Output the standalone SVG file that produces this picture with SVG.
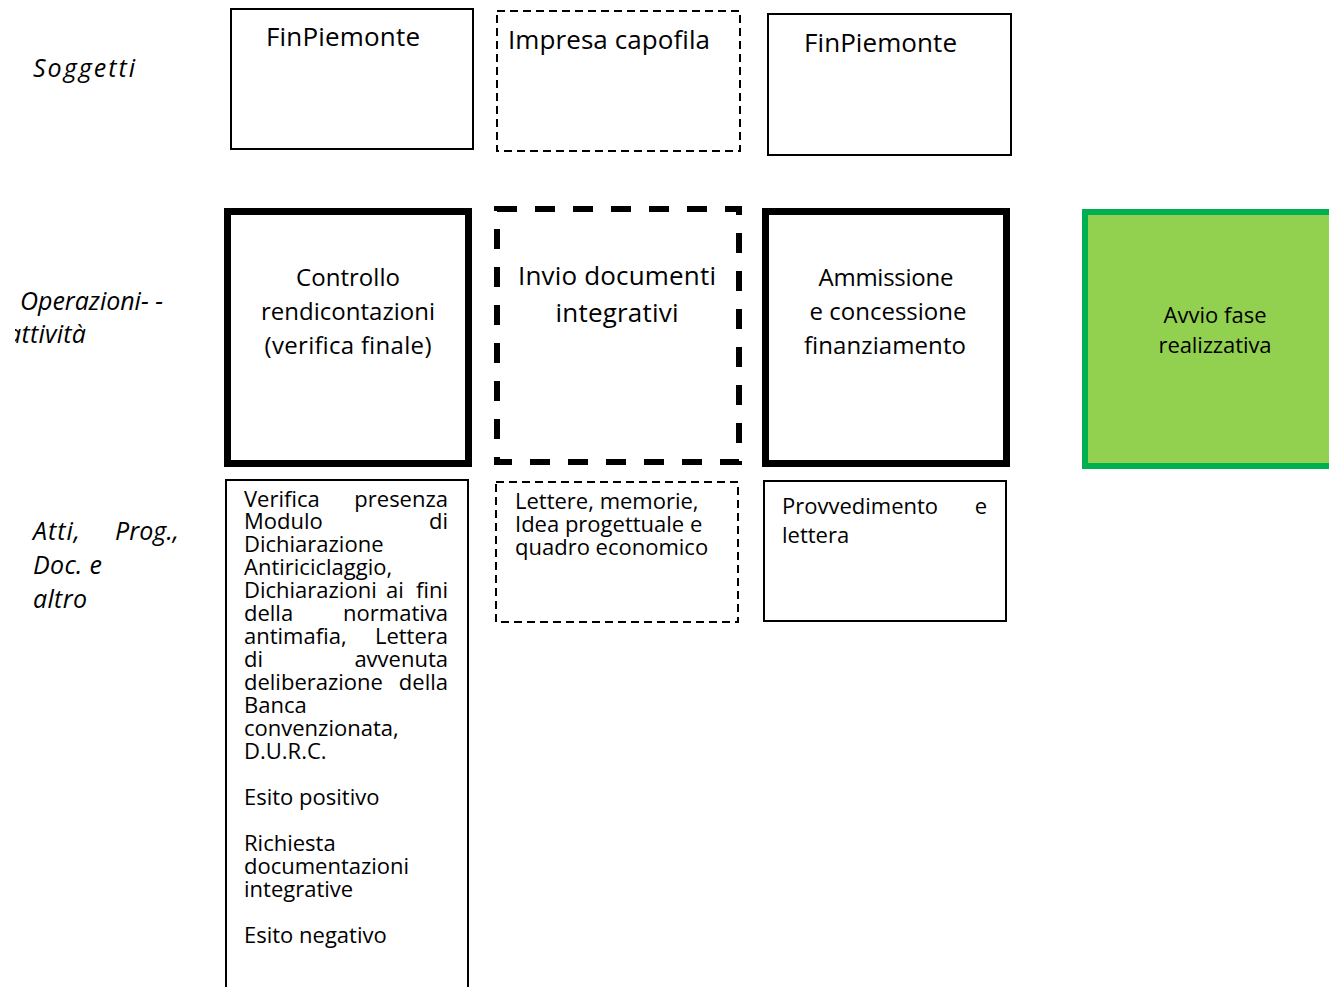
<svg xmlns="http://www.w3.org/2000/svg" width="1329" height="987" viewBox="0 0 1329 987">
<style>
text{font-family:"Open Sans","Noto Sans","Liberation Sans",sans-serif;fill:#000}
.lab{font-style:italic;font-size:25px}
.thin{fill:#fff;stroke:#000;stroke-width:2}
.dash{fill:#fff;stroke:#000;stroke-width:2;stroke-dasharray:8 5}
.thick{fill:#fff;stroke:#000;stroke-width:7}
.tdash{fill:#fff;stroke:#000;stroke-width:6;stroke-dasharray:20 18}
.t1{font-size:26px}
.t2{font-size:24px;text-anchor:middle}
.t3{font-size:22px}
.e{text-anchor:end}
</style>
<defs><clipPath id="clipL"><rect x="15" y="0" width="300" height="987"/></clipPath></defs>
<rect width="1329" height="987" fill="#fff"/>
<g id="labels">
<text class="lab" x="33" y="77" textLength="102">Soggetti</text>
<text class="lab" x="20" y="310" textLength="143">Operazioni- -</text>
<text class="lab" x="7" y="343" textLength="79" clip-path="url(#clipL)">attività</text>
<text class="lab" x="33" y="540" textLength="47">Atti,</text>
<text class="lab" x="115" y="540" textLength="64">Prog.,</text>
<text class="lab" x="33" y="574" textLength="69">Doc. e</text>
<text class="lab" x="33" y="608" textLength="54">altro</text>
</g>
<g id="soggetto1"><rect class="thin" x="231" y="9" width="242" height="140"/><text class="t1" x="266" y="46" textLength="154">FinPiemonte</text></g>
<g id="soggetto2"><rect class="dash" x="497" y="11" width="243" height="140"/><text class="t1" x="508" y="49" textLength="202">Impresa capofila</text></g>
<g id="soggetto3"><rect class="thin" x="768" y="14" width="243" height="141"/><text class="t1" x="804" y="52" textLength="153">FinPiemonte</text></g>
<g id="op1"><rect class="thick" x="227.5" y="211.5" width="241" height="252"/>
<text class="t2" x="348" y="286" textLength="104">Controllo</text><text class="t2" x="348" y="320" textLength="174">rendicontazioni</text><text class="t2" x="348" y="354" textLength="167">(verifica finale)</text></g>
<g id="op2"><rect class="tdash" x="497" y="209" width="242" height="253"/>
<text class="t2" x="617" y="285" style="font-size:26px" textLength="198">Invio documenti</text><text class="t2" x="617" y="322" style="font-size:26px" textLength="123">integrativi</text></g>
<g id="op3"><rect class="thick" x="765.5" y="211.5" width="241" height="252"/>
<text class="t2" x="886" y="286" textLength="135">Ammissione</text><text class="t2" x="888" y="320" textLength="157">e concessione</text><text class="t2" x="885" y="354" textLength="162">finanziamento</text></g>
<g id="op4"><rect x="1085" y="212" width="250" height="254" fill="#92D050" stroke="#00B050" stroke-width="6"/>
<text class="t2" x="1215" y="323" style="font-size:22px" textLength="103">Avvio fase</text><text class="t2" x="1215" y="353" style="font-size:22px" textLength="113">realizzativa</text></g>
<g id="doc1"><rect class="thin" x="226" y="480" width="242" height="520"/>
<text class="t3" x="244" y="507">Verifica</text><text class="t3 e" x="448" y="507">presenza</text>
<text class="t3" x="244" y="529">Modulo</text><text class="t3 e" x="448" y="529">di</text>
<text class="t3" x="244" y="552">Dichiarazione</text>
<text class="t3" x="244" y="575">Antiriciclaggio,</text>
<text class="t3" x="244" y="598">Dichiarazioni</text><text class="t3" x="386" y="598">ai</text><text class="t3 e" x="448" y="598">fini</text>
<text class="t3" x="244" y="621">della</text><text class="t3 e" x="448" y="621">normativa</text>
<text class="t3" x="244" y="644">antimafia,</text><text class="t3 e" x="448" y="644">Lettera</text>
<text class="t3" x="244" y="667">di</text><text class="t3 e" x="448" y="667">avvenuta</text>
<text class="t3" x="244" y="690">deliberazione</text><text class="t3 e" x="448" y="690">della</text>
<text class="t3" x="244" y="713">Banca</text>
<text class="t3" x="244" y="736">convenzionata,</text>
<text class="t3" x="244" y="759">D.U.R.C.</text>
<text class="t3" x="244" y="805">Esito positivo</text>
<text class="t3" x="244" y="851">Richiesta</text>
<text class="t3" x="244" y="874">documentazioni</text>
<text class="t3" x="244" y="897">integrative</text>
<text class="t3" x="244" y="943">Esito negativo</text></g>
<g id="doc2"><rect class="dash" x="496" y="482" width="242" height="140"/>
<text class="t3" x="515" y="509">Lettere, memorie,</text><text class="t3" x="515" y="532">Idea progettuale e</text><text class="t3" x="515" y="555">quadro economico</text></g>
<g id="doc3"><rect class="thin" x="764" y="481" width="242" height="140"/>
<text class="t3" x="782" y="514">Provvedimento</text><text class="t3 e" x="987" y="514">e</text><text class="t3" x="782" y="543">lettera</text></g>
<g id="connectors"></g>
</svg>
